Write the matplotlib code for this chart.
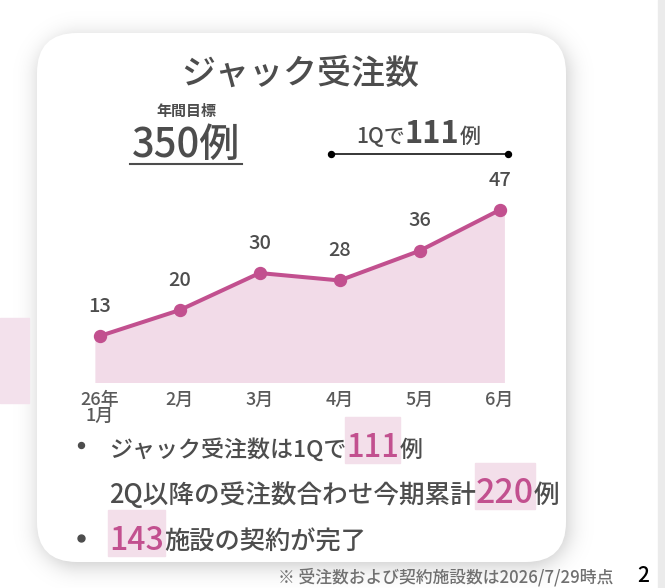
import numpy as np
import matplotlib
matplotlib.use("Agg")
import matplotlib.pyplot as plt
from matplotlib.patches import FancyBboxPatch, Rectangle

plt.rcParams['font.family'] = ['Noto Sans CJK JP', 'DejaVu Sans']
plt.rcParams['font.weight'] = 'medium'

# データ
months = ['26年\n1月', '2月', '3月', '4月', '5月', '6月']
orders = [13, 20, 30, 28, 36, 47]
title = 'ジャック受注数'
goal_label = '年間目標'
goal_value = '350例'
q1_total = '111'
cum_total = '220'
facilities = '143'
note = '※ 受注数および契約施設数は2026/7/29時点'
page_no = '2'

PINK = '#c2508f'
FILL = '#f2dbe8'
HL = '#f3dfea'
TXT = '#4d4d4d'

W, H = 665, 588
PX = 0.72  # px -> pt (dpi 100)

fig = plt.figure(figsize=(W / 100, H / 100), dpi=100)
bg = fig.add_axes([0, 0, 1, 1])
bg.set_xlim(0, W)
bg.set_ylim(H, 0)
bg.axis('off')

# カードの影
cx0, cy0, cx1, cy1, rad = 37, 33, 566, 562, 40
yy, xx = np.mgrid[0:H, 0:W] + 0.5
qx = np.abs(xx - ((cx0 + cx1) / 2 + 2)) - ((cx1 - cx0) / 2 - rad)
qy = np.abs(yy - ((cy0 + cy1) / 2 + 4)) - ((cy1 - cy0) / 2 - rad)
dist = np.hypot(np.maximum(qx, 0), np.maximum(qy, 0)) + np.minimum(np.maximum(qx, qy), 0) - rad
shadow = np.zeros((H, W, 4))
shadow[..., 3] = 0.22 / (1 + np.exp(dist / 6.5))
bg.imshow(shadow, extent=(0, W, H, 0), zorder=1, interpolation='bilinear')

bg.add_patch(Rectangle((658, 0), 7, H, color='#ebebeb', zorder=1))
bg.add_patch(Rectangle((0, 318), 29, 85, color='#f3e1ec', zorder=1))
bg.add_patch(FancyBboxPatch((cx0, cy0), cx1 - cx0, cy1 - cy0,
                            boxstyle=f"round,pad=0,rounding_size={rad}",
                            fc='white', ec='none', zorder=2))

renderer = fig.canvas.get_renderer()


def runs(x, y, parts, ha='left'):
    texts = []
    for s, size, color, weight in parts:
        texts.append(bg.text(0, y, s, fontsize=size * PX, color=color, weight=weight,
                             va='baseline', ha='left', zorder=5))
    widths = [t.get_window_extent(renderer).width for t in texts]
    start = x - sum(widths) / 2 if ha == 'center' else x
    pos = []
    for t, w in zip(texts, widths):
        t.set_x(start)
        pos.append((start, w))
        start += w
    return pos


# タイトルと目標
bg.text(300, 84, title, fontsize=34 * PX, color=TXT, ha='center', va='baseline', zorder=5)
bg.text(186, 116, goal_label, fontsize=15 * PX, color=TXT, weight='bold',
        ha='center', va='baseline', zorder=5)
gv = bg.text(186, 157, goal_value, fontsize=40 * PX, color=TXT, ha='center', va='baseline', zorder=5)
bb = gv.get_window_extent(renderer)
bg.plot([bb.x0 - 2, bb.x1 + 2], [164, 164], color=TXT, lw=1.5, zorder=5)

runs(418, 143, [('1Qで', 21, TXT, 'medium'), (q1_total, 31, TXT, 'bold'),
                ('例', 21, TXT, 'medium')], ha='center')
bg.plot([331, 508], [154, 154], color='black', lw=1.1, zorder=5)
bg.plot([331, 508], [154, 154], 'o', color='black', ms=4.3, zorder=5)

# 箇条書き
lines = [
    (457, [('ジャック受注数は1Qで', 23, TXT, 'medium'), (q1_total, 31, PINK, 'medium'), ('例', 23, TXT, 'medium')]),
    (503, [('2Q以降の受注数合わせ今期累計', 25.6, TXT, 'medium'), (cum_total, 34, PINK, 'medium'), ('例', 25.6, TXT, 'medium')]),
    (550, [(facilities, 32, PINK, 'medium'), ('施設の契約が完了', 25.2, TXT, 'medium')]),
]
for base, parts in lines:
    pos = runs(109, base, parts)
    for (s, size, color, weight), (px, w) in zip(parts, pos):
        if color == PINK:
            bg.add_patch(Rectangle((px - 1, base - 40), w + 2, 46, color=HL, zorder=4))
bg.plot([81], [445], 'o', color=TXT, ms=4.3, zorder=5)
bg.plot([81], [538], 'o', color=TXT, ms=5.0, zorder=5)

bg.text(613, 582, note, fontsize=16.8 * PX, color='#707070', ha='right', va='baseline', zorder=5)
bg.text(643, 582, page_no, fontsize=21 * PX, color='black', ha='center', va='baseline', zorder=5)

# グラフ
ax = fig.add_axes([60 / W, 1 - 382 / H, 480 / W, 222 / H])
ax.patch.set_alpha(0)
x = np.arange(len(orders))
xf = np.r_[x[0] - 0.06, x, x[-1] + 0.06]
yf = np.r_[orders[0], orders, orders[-1]]
ax.fill_between(xf, yf, 0, color=FILL, lw=0)
ax.plot(x, orders, color=PINK, lw=2.9, marker='o', ms=8.6)
for xi, v in zip(x, orders):
    ax.annotate(str(v), (xi, v), xytext=(0, 17.6), textcoords='offset points',
                ha='center', va='baseline', fontsize=20 * PX, color=TXT)
ax.set_xlim(-0.496, 5.505)
ax.set_ylim(0.6, 60.5)
ax.set_xticks(x, months)
ax.set_yticks([])
ax.tick_params(length=0, pad=6.6, labelsize=18 * PX, labelcolor='#5a5a5a')
for lbl in ax.get_xticklabels():
    lbl.set_linespacing(0.82)
for s in ax.spines.values():
    s.set_visible(False)

fig.savefig('out.png', dpi=100)
